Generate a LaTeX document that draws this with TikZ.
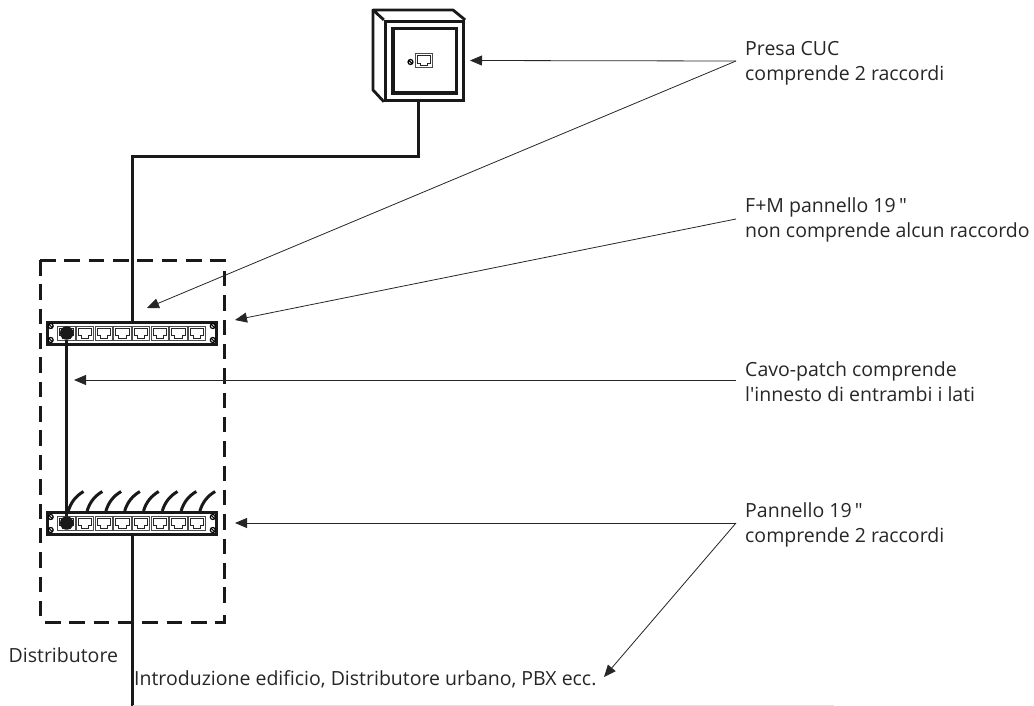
\documentclass[tikz,border=0pt]{standalone}
\usepackage{fontspec}
\newfontfamily\labelfont{Open Sans}
\usetikzlibrary{arrows.meta}
\tikzset{
  cablew/.style={line width=3pt,black!90},
  leader/.style={line width=0.8pt,black!85,-{Triangle[length=12pt,width=10pt]}},
  framedash/.style={line width=3pt,black!90,dash pattern=on 15.5pt off 8.85pt},
  outline/.style={line width=2.8pt,black!90,line join=round},
  labeltext/.style={anchor=north west,align=left,font=\labelfont\fontsize{19.5}{25.3}\selectfont,inner sep=0pt,text=black!85},
  panelbox/.style={draw=black!90,line width=3pt,fill=white,minimum width=169.5pt,minimum height=22pt,inner sep=0pt},
  portbox/.style={draw=black!70,line width=0.8pt,fill=white},
  plugmark/.style={circle,fill=black!90,minimum size=13.5pt,inner sep=0pt},
  screwmark/.pic={\draw[line width=1.2pt,fill=white] (0,0) circle (2.5pt); \draw[line width=1.1pt] (-1.7pt,1.7pt)--(1.7pt,-1.7pt);},
  rjmark/.pic={
    \draw[portbox] (-8.7pt,-7pt) rectangle (8.7pt,7pt);
    \draw[line width=0.8pt,black!85] (-6.8pt,5.2pt)--(-6.8pt,-2.5pt)--(-3.8pt,-2.5pt)--(-3.8pt,-5pt)--(3.8pt,-5pt)--(3.8pt,-2.5pt)--(6.8pt,-2.5pt)--(6.8pt,5.2pt)--cycle;
  },
  x=1pt,y=-1pt
}
\newcommand{\fl}{\rule{0pt}{15pt}}
\begin{document}
\begin{tikzpicture}
\useasboundingbox (0,0) rectangle (1034,706);
% distributor frame
\draw[framedash] (40,260) -- (224,260) -- (224,606);
\draw[framedash] (40,260) -- (40,617);
\draw[framedash] (45,622) -- (224,622) -- (224,612);
% outlet
\node[draw=black!90,line width=2.8pt,minimum width=78.5pt,minimum height=79pt,inner sep=0pt,fill=white] (outlet) at (424.5,60.8) {};
\node[draw=black!90,line width=3.8pt,minimum width=63.5pt,minimum height=64.5pt,inner sep=0pt] (outletin) at (424.7,60.8) {};
\draw[outline] (outlet.north west) -- (373,10) -- (453,10) -- (outlet.north east);
\draw[outline] (373,10) -- (373,90) -- (outlet.south west);
\pic at (424,60.5) {rjmark};
\pic at (410.5,62) {screwmark};
% panels
\node[panelbox] (p1) at (131.8,333.3) {};
\node[panelbox] (p2) at (132,523.3) {};
\foreach \i in {0,...,7}{
  \pic at ({66.4+18.66*\i},333.3) {rjmark};
  \pic at ({66.4+18.66*\i},523.3) {rjmark};
  \draw[line width=3pt,black!90] ({68.3+18.8*\i},511) .. controls ({71+18.8*\i},502) and ({76+18.8*\i},496) .. ({83.5+18.8*\i},491.5);
}
\foreach \x in {50.7,212.8}{
  \pic at (\x,326) {screwmark};
  \pic at (\x,340) {screwmark};
  \pic at (\x,517) {screwmark};
  \pic at (\x,530) {screwmark};
}
% plugs
\node[plugmark] (plug1) at (66.7,333) {};
\node[plugmark] (plug2) at (66.7,523) {};
% cables
\coordinate (bottomend) at (132.5,706);
\draw[cablew] (outlet.south -| 418.5,102) -- (418.5,157) -- (132.5,157) -- (p1.north -| 132.5,321);
\draw[cablew] (plug1) -- (plug2);
\draw[cablew] (p2.south -| 132.5,535) -- (bottomend);
\draw[black!12,line width=0.8pt] (bottomend |- 0,705) -- (834,705);
% labels
\node[labeltext] (lab1) at (745,40) {\fl Presa CUC\\comprende 2 raccordi};
\node[labeltext] (lab2) at (745,197) {\fl F+M pannello 19\,"\\non comprende alcun raccordo};
\node[labeltext] (lab3) at (745,361) {\fl Cavo-patch comprende\\l'innesto di entrambi i lati};
\node[labeltext] (lab4) at (745,502) {\fl Pannello 19\,"\\comprende 2 raccordi};
\node[labeltext] (lab5) at (8.5,647.7) {\fl Distributore};
\node[labeltext] (lab6) at (134,670) {\fl Introduzione edificio, Distributore urbano, PBX ecc.};
% leaders
\coordinate (a1) at (736,61);
\coordinate (a2) at (736,219);
\coordinate (a3) at (736,380);
\coordinate (a4) at (736,523);
\coordinate (t1) at (470,60.5);
\coordinate (t2) at (147,308);
\coordinate (t3) at (235,320);
\coordinate (t4) at (74,380);
\coordinate (t5) at (235,523);
\coordinate (t6) at (604,677);
\draw[leader] (a1) -- (t1);
\draw[leader] (a1) -- (t2);
\draw[leader] (a2) -- (t3);
\draw[leader] (a3) -- (t4);
\draw[leader] (a4) -- (t5);
\draw[leader] (a4) -- (t6);
\end{tikzpicture}
\end{document}
